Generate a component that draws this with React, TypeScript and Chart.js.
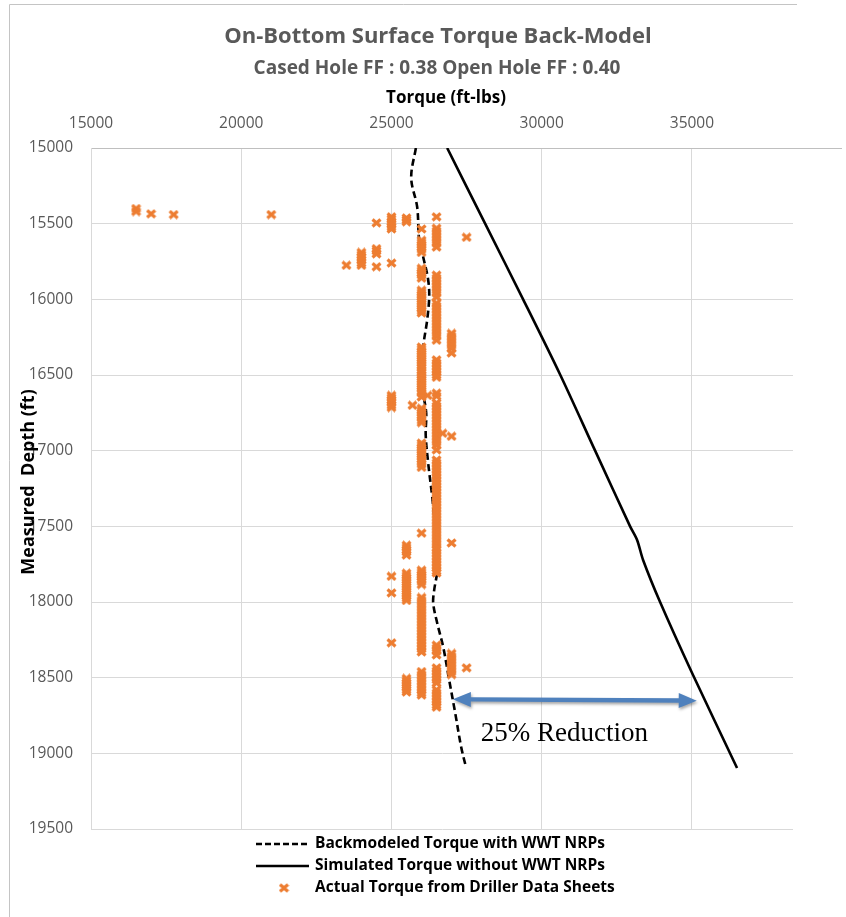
import React, { useEffect, useRef } from 'react';
import { Chart, registerables } from 'chart.js';

Chart.register(...registerables);

// ---------- texts ----------
const titleText = 'On-Bottom Surface Torque Back-Model';
const subtitleText = 'Cased Hole FF : 0.38 Open Hole FF : 0.40';
const xAxisTitle = 'Torque (ft-lbs)';
const yAxisTitle = 'Measured  Depth (ft)';
const legendLabels = [
  'Backmodeled Torque with WWT NRPs',
  'Simulated Torque without WWT NRPs',
  'Actual Torque from Driller Data Sheets',
];

// ---------- axes ----------
const xMin = 15000;
const xMax = 38364;
const xTickValues = [15000, 20000, 25000, 30000, 35000];
const yMin = 15000;
const yMax = 19500;
const yTickValues = [15000, 15500, 16000, 16500, 17000, 17500, 18000, 18500, 19000, 19500];

// ---------- Backmodeled torque (dashed) ----------
const backDepth = [15000, 15198, 15390, 15608, 15720, 15872, 15984, 16136, 16315, 16487, 16619, 16751, 16897, 17082, 17306, 17524, 17789, 17921, 18007, 18139, 18297, 18515, 18733, 18958, 19097];
const backTorque = [25812, 25657, 25856, 25923, 26056, 26222, 26256, 26189, 26056, 26023, 26056, 26156, 26140, 26222, 26356, 26455, 26522, 26422, 26389, 26522, 26722, 26921, 27121, 27320, 27487];

// ---------- Simulated torque (solid) ----------
const simDepth = [15000, 15500, 16000, 16500, 17000, 17500, 17590, 17722, 18000, 18469, 19097];
const simTorque = [26854, 28118, 29382, 30620, 31778, 32942, 33175, 33374, 33940, 35005, 36502];

// ---------- Actual torque (driller data sheets) ----------
const actualTorqueLevels = [16500, 17000, 17750, 21000, 23500, 24000, 24500, 25000, 25500, 25700, 26000, 26200, 26500, 26700, 27000, 27500];
const actualDepths = [
  [15400, 15420],
  [15435],
  [15440],
  [15440],
  [15775],
  [15690, 15705, 15720, 15740, 15760, 15775],
  [15495, 15665, 15680, 15700, 15785],
  [15455, 15470, 15490, 15505, 15520, 15535, 15760, 16635, 16650, 16665, 16680, 16700, 16715, 17830, 17940, 18270],
  [15462, 15475, 15488, 17625, 17640, 17655, 17670, 17690, 17810, 17825, 17840, 17855, 17870, 17885, 17900, 17915, 17930, 17945, 17960, 17975, 17990, 18505, 18520, 18535, 18550, 18565, 18580, 18595],
  [16700],
  [15535, 15610, 15625, 15640, 15655, 15670, 15690, 15795, 15810, 15825, 15840, 15860, 15940, 15955, 15970, 15985, 16000, 16015, 16030, 16045, 16060, 16075, 16090,
    16315, 16330, 16345, 16360, 16375, 16390, 16405, 16420, 16435, 16450, 16470, 16485, 16500, 16515, 16530, 16545, 16560, 16575, 16590, 16605, 16620, 16645,
    16720, 16735, 16750, 16765, 16780, 16800, 16815, 16950, 16965, 16980, 16995, 17010, 17025, 17040, 17055, 17070, 17090, 17110, 17545,
    17790, 17805, 17820, 17835, 17850, 17865, 17885, 17970, 17990, 18010, 18030, 18050, 18070, 18090, 18110, 18130, 18150, 18170, 18190, 18210, 18230, 18250, 18270, 18290, 18310, 18330,
    18460, 18480, 18500, 18520, 18540, 18560, 18580, 18600, 18615],
  [16635],
  [15455, 15530, 15550, 15570, 15590, 15610, 15630, 15655, 15840, 15860, 15880, 15900, 15920, 15940, 15960, 15985,
    16025, 16045, 16065, 16085, 16105, 16125, 16145, 16165, 16185, 16205, 16225, 16245, 16270, 16400, 16420, 16440, 16460, 16480, 16500, 16515, 16620, 16640,
    16685, 16705, 16725, 16745, 16765, 16785, 16805, 16825, 16845, 16865, 16885, 16905, 16925, 16945, 16965, 16995,
    17062, 17080, 17100, 17120, 17140, 17160, 17180, 17200, 17220, 17240, 17260, 17280, 17300, 17320, 17340, 17360, 17380, 17400, 17420, 17440, 17460, 17480, 17500, 17520, 17540, 17560, 17580, 17600, 17620, 17640, 17655,
    17675, 17695, 17715, 17735, 17755, 17775, 17795, 17808, 18285, 18305, 18325, 18350, 18435, 18455, 18475, 18495, 18515, 18535,
    18580, 18600, 18620, 18640, 18660, 18680, 18695],
  [16885],
  [16225, 16245, 16265, 16285, 16305, 16325, 16355, 16905, 17610, 18340, 18360, 18380, 18400, 18420, 18440, 18460, 18480],
  [15590, 18435],
];

// ---------- annotation ----------
const arrowTorque = [27043, 35160];
const arrowDepth = [18643, 18652];
const reductionLabel = '25% Reduction';
const reductionTorque = 27970;
const reductionDepth = 18918;

const ORANGE = '#ED7D31';
const FONT = '"Open Sans", "DejaVu Sans", sans-serif';

function makeMarker(): HTMLCanvasElement {
  const c = document.createElement('canvas');
  c.width = 11;
  c.height = 10;
  const g = c.getContext('2d')!;
  g.strokeStyle = ORANGE;
  g.lineWidth = 3.2;
  g.beginPath();
  g.moveTo(1.5, 1.5);
  g.lineTo(9.5, 8.5);
  g.moveTo(9.5, 1.5);
  g.lineTo(1.5, 8.5);
  g.stroke();
  return c;
}

export default function App() {
  const ref = useRef<HTMLCanvasElement>(null);

  useEffect(() => {
    const canvas = ref.current!;
    const marker = makeMarker();

    const actualPoints: { x: number; y: number }[] = [];
    actualTorqueLevels.forEach((t, i) => {
      actualDepths[i].forEach((d) => actualPoints.push({ x: t, y: d }));
    });

    const overlay = {
      id: 'overlay',
      afterDraw(chart: any) {
        const ctx: CanvasRenderingContext2D = chart.ctx;
        const a = chart.chartArea;
        const xs = chart.scales.x;
        const ys = chart.scales.y;
        ctx.save();
        // outer frame (top + left)
        ctx.strokeStyle = '#c4c4c4';
        ctx.lineWidth = 1;
        ctx.beginPath();
        ctx.moveTo(9.5, 917);
        ctx.lineTo(9.5, 4.5);
        ctx.lineTo(797, 4.5);
        ctx.stroke();
        // top axis line extension
        ctx.strokeStyle = '#bfbfbf';
        ctx.beginPath();
        ctx.moveTo(a.right, a.top + 0.5);
        ctx.lineTo(842, a.top + 0.5);
        ctx.stroke();

        // titles
        ctx.textAlign = 'center';
        ctx.textBaseline = 'alphabetic';
        ctx.fillStyle = '#595959';
        ctx.font = `bold 22px ${FONT}`;
        ctx.fillText(titleText, 438, 43);
        ctx.font = `bold 19px ${FONT}`;
        ctx.fillText(subtitleText, 437, 74);
        ctx.fillStyle = '#000000';
        ctx.font = `bold 17px ${FONT}`;
        ctx.fillText(xAxisTitle, 446, 103);

        // y-axis title
        ctx.save();
        ctx.translate(29, 482);
        ctx.rotate(-Math.PI / 2);
        ctx.textBaseline = 'middle';
        ctx.font = `bold 18px ${FONT}`;
        ctx.fillText(yAxisTitle, 0, 0);
        ctx.restore();

        // arrow
        const x1 = xs.getPixelForValue(arrowTorque[0]);
        const y1 = ys.getPixelForValue(arrowDepth[0]);
        const x2 = xs.getPixelForValue(arrowTorque[1]);
        const y2 = ys.getPixelForValue(arrowDepth[1]);
        const L = Math.hypot(x2 - x1, y2 - y1);
        const ang = Math.atan2(y2 - y1, x2 - x1);
        const hl = 18, hh = 7.5, sw = 2.2;
        ctx.save();
        ctx.translate(x1, y1);
        ctx.rotate(ang);
        ctx.shadowColor = 'rgba(0,0,0,0.35)';
        ctx.shadowBlur = 3;
        ctx.shadowOffsetX = 1;
        ctx.shadowOffsetY = 2;
        ctx.fillStyle = '#4F81BD';
        ctx.beginPath();
        ctx.moveTo(0, 0);
        ctx.lineTo(hl, -hh);
        ctx.lineTo(hl, -sw);
        ctx.lineTo(L - hl, -sw);
        ctx.lineTo(L - hl, -hh);
        ctx.lineTo(L, 0);
        ctx.lineTo(L - hl, hh);
        ctx.lineTo(L - hl, sw);
        ctx.lineTo(hl, sw);
        ctx.lineTo(hl, hh);
        ctx.closePath();
        ctx.fill();
        ctx.restore();

        // annotation text
        ctx.fillStyle = '#000000';
        ctx.textAlign = 'left';
        ctx.textBaseline = 'alphabetic';
        ctx.font = '27px "Liberation Serif", "DejaVu Serif", serif';
        ctx.fillText(reductionLabel, xs.getPixelForValue(reductionTorque), ys.getPixelForValue(reductionDepth));

        // legend
        const rows = [844, 866, 888];
        ctx.font = `bold 15.5px ${FONT}`;
        ctx.textBaseline = 'middle';
        ctx.fillStyle = '#000000';
        legendLabels.forEach((lbl, i) => ctx.fillText(lbl, 315, rows[i]));
        ctx.strokeStyle = '#000000';
        ctx.lineWidth = 2.5;
        ctx.setLineDash([6, 3]);
        ctx.beginPath();
        ctx.moveTo(256, rows[0]);
        ctx.lineTo(309, rows[0]);
        ctx.stroke();
        ctx.setLineDash([]);
        ctx.beginPath();
        ctx.moveTo(256, rows[1]);
        ctx.lineTo(309, rows[1]);
        ctx.stroke();
        ctx.drawImage(marker, 284 - 5.5, rows[2] - 5);
        ctx.restore();
      },
    };

    const tickFont = { family: FONT, size: 15.5 };

    const chart = new Chart(canvas, {
      type: 'scatter',
      data: {
        datasets: [
          {
            label: legendLabels[0],
            data: backDepth.map((d, i) => ({ x: backTorque[i], y: d })),
            showLine: true,
            borderColor: '#000000',
            borderWidth: 2.6,
            borderDash: [7, 4],
            pointRadius: 0,
            tension: 0.35,
            order: 1,
          },
          {
            label: legendLabels[1],
            data: simDepth.map((d, i) => ({ x: simTorque[i], y: d })),
            showLine: true,
            borderColor: '#000000',
            borderWidth: 2.6,
            pointRadius: 0,
            tension: 0.3,
            order: 1,
          },
          {
            label: legendLabels[2],
            data: actualPoints,
            pointStyle: marker,
            pointRadius: 5,
            borderColor: ORANGE,
            backgroundColor: ORANGE,
            order: 0,
          },
        ],
      },
      options: {
        responsive: false,
        animation: false,
        devicePixelRatio: 1,
        layout: { padding: { left: 0, top: 0, right: 53, bottom: 88 } },
        plugins: {
          legend: { display: false },
          title: { display: false },
          tooltip: { enabled: false },
        },
        scales: {
          x: {
            type: 'linear',
            position: 'top',
            min: xMin,
            max: xMax,
            afterFit: (s: any) => {
              s.height = 148;
            },
            afterBuildTicks: (s: any) => {
              s.ticks = xTickValues.map((v) => ({ value: v }));
            },
            ticks: {
              padding: 15,
              color: '#595959',
              font: tickFont,
              maxRotation: 0,
              autoSkip: false,
              callback: (v: any) => String(v),
            },
            grid: { color: '#d9d9d9', drawTicks: false, lineWidth: 1 },
            border: { display: true, color: '#bfbfbf' },
          },
          y: {
            type: 'linear',
            reverse: true,
            min: yMin,
            max: yMax,
            afterFit: (s: any) => {
              s.width = 91;
            },
            afterBuildTicks: (s: any) => {
              s.ticks = yTickValues.map((v) => ({ value: v }));
            },
            ticks: {
              padding: 18,
              color: '#595959',
              font: tickFont,
              autoSkip: false,
              callback: (v: any) => String(v),
            },
            grid: { color: '#d9d9d9', drawTicks: false, lineWidth: 1 },
            border: { display: true, color: '#d9d9d9' },
          },
        },
      },
      plugins: [overlay],
    });

    return () => chart.destroy();
  }, []);

  return (
    <div style={{ position: 'absolute', left: 0, top: 0, width: 846, height: 917, background: '#ffffff' }}>
      <canvas ref={ref} width={846} height={917} style={{ display: 'block', width: 846, height: 917 }} />
    </div>
  );
}
